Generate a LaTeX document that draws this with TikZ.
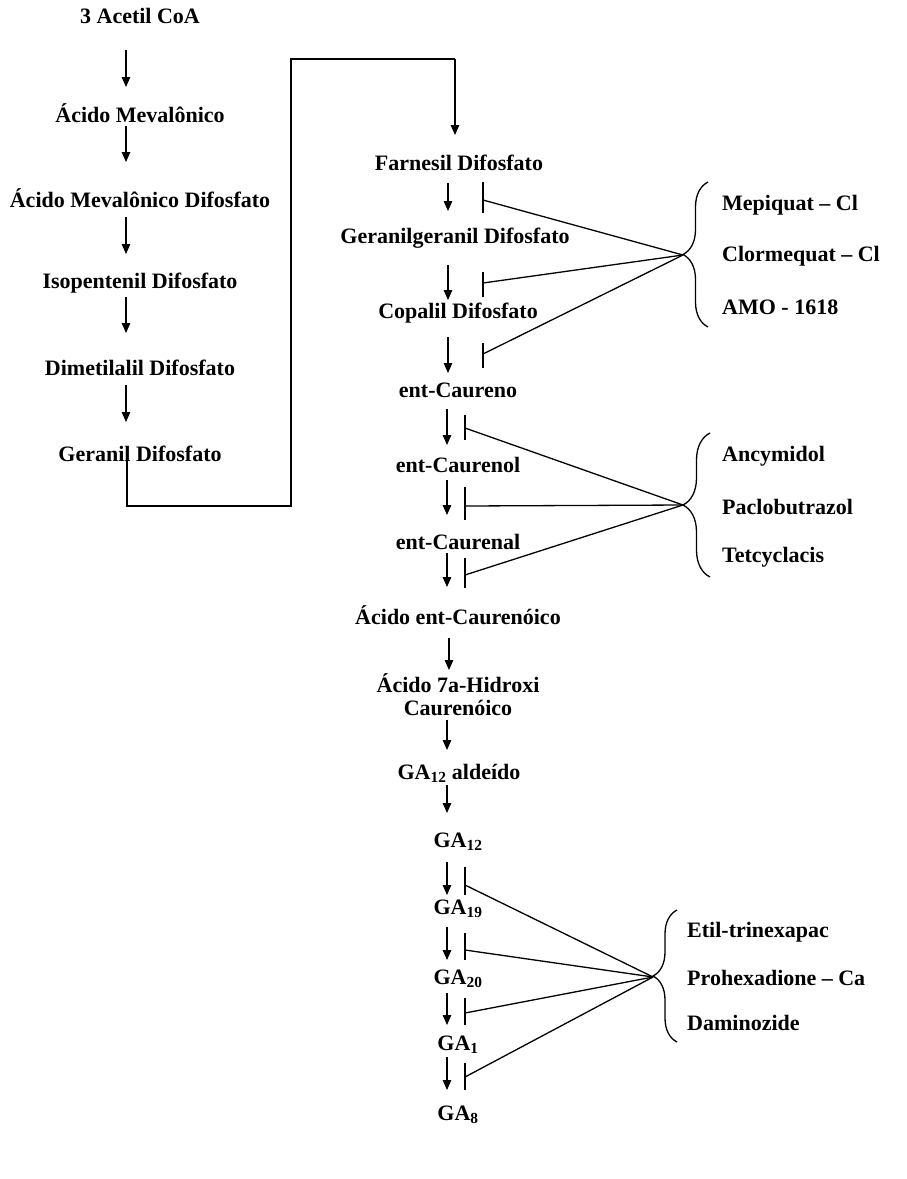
\documentclass[tikz,border=0pt]{standalone}
\usepackage{fontspec}
\setmainfont{Liberation Serif}
\usetikzlibrary{arrows.meta,decorations.pathreplacing}
\tikzset{
  lbl/.style={font=\fontsize{22}{24}\selectfont\bfseries, inner sep=0pt, align=center},
  rlbl/.style={lbl, anchor=west},
  arr/.style={line width=1.3pt, -{Triangle[length=10pt,width=8.5pt]}},
  ln/.style={line width=1.3pt},
  brc/.style={line width=1.3pt, decorate, decoration={brace, amplitude=#1}}
}
\begin{document}
\begin{tikzpicture}[x=1pt,y=-1pt]
\useasboundingbox (0,0) rectangle (906,1179);
% left column
\node[lbl] (acetil) at (140,16) {3 Acetil CoA};
\node[lbl] (mev) at (140,113) {Ácido Mevalônico};
\node[lbl] (mevd) at (140,198) {Ácido Mevalônico Difosfato};
\node[lbl] (iso) at (140,283) {Isopentenil Difosfato};
\node[lbl] (dim) at (140,368) {Dimetilalil Difosfato};
\node[lbl] (ger) at (140,454) {Geranil Difosfato};
\draw[arr] (126,50) -- (126,87);
\draw[arr] (126,126) -- (126,162);
\draw[arr] (126,217) -- (126,254);
\draw[arr] (126,297) -- (126,333);
\draw[arr] (126,385) -- (126,422);
% loop
\coordinate (loopA) at (127,446);
\coordinate (loopB) at (127,506);
\coordinate (loopC) at (291,506);
\coordinate (loopD) at (291,59);
\coordinate (loopE) at (455,59);
\coordinate (loopF) at (455,135);
\draw[ln] (loopA) -- (loopB) -- (loopC) -- (loopD) -- (loopE);
\draw[arr] (loopE) -- (loopF);
% right column
\node[lbl] (far) at (459,163) {Farnesil Difosfato};
\node[lbl] (ggd) at (455,238) {Geranilgeranil Difosfato};
\node[lbl] (cop) at (458,313) {Copalil Difosfato};
\node[lbl] (entc) at (458,390) {ent-Caureno};
\node[lbl] (entol) at (458,465) {ent-Caurenol};
\node[lbl] (ental) at (458,542) {ent-Caurenal};
\node[lbl] (acent) at (458,615) {Ácido ent-Caurenóico};
\node[lbl, text depth=0pt] (hid) at (458,695) {Ácido 7a-Hidroxi\\[-1pt]Caurenóico};
\node[lbl] (ga12a) at (459,773) {GA\textsubscript{12} aldeído};
\node[lbl] (ga12) at (458,842) {GA\textsubscript{12}};
\node[lbl] (ga19) at (458,909) {GA\textsubscript{19}};
\node[lbl] (ga20) at (458,979) {GA\textsubscript{20}};
\node[lbl] (ga1) at (458,1045) {GA\textsubscript{1}};
\node[lbl] (ga8) at (458,1115) {GA\textsubscript{8}};
% pathway arrows
\draw[arr] (448,183) -- (448,211);
\draw[arr] (448,265) -- (448,300);
\draw[arr] (448,337) -- (448,373);
\draw[arr] (447,409) -- (447,445);
\draw[arr] (447,480) -- (447,515);
\draw[arr] (447,553) -- (447,587);
\draw[arr] (449,638) -- (449,670);
\draw[arr] (447,720) -- (447,750);
\draw[arr] (447,785) -- (447,813);
\draw[arr] (447,862) -- (447,895);
\draw[arr] (447,927) -- (447,960);
\draw[arr] (447,993) -- (447,1025);
\draw[arr] (447,1057) -- (447,1090);
% brace tips
\coordinate (tip1) at (683,255);
\coordinate (tip2) at (683,505);
\coordinate (tip3) at (653,977);
% group 1
\draw[brc=25pt] (708,327) -- (708,182);
\node[rlbl] (mep) at (722,205) {Mepiquat -- Cl};
\node[rlbl] (clo) at (722,256) {Clormequat -- Cl};
\node[rlbl] (amo) at (722,307) {AMO - 1618};
\draw[ln] (483,182) -- (483,213);
\draw[ln] (483,200) -- (tip1);
\draw[ln] (483,272) -- (483,297);
\draw[ln] (483,283) -- (tip1);
\draw[ln] (483,343) -- (483,368);
\draw[ln] (483,354) -- (tip1);
% group 2
\draw[brc=27pt] (710,577) -- (710,433);
\node[rlbl] (anc) at (722,456) {Ancymidol};
\node[rlbl] (pac) at (722,507) {Paclobutrazol};
\node[rlbl] (tet) at (722,557) {Tetcyclacis};
\draw[ln] (465,415) -- (465,440);
\draw[ln] (465,428) -- (tip2);
\draw[ln] (465,487) -- (465,520);
\draw[ln] (465,506) -- (tip2);
\draw[ln] (465,558) -- (465,588);
\draw[ln] (465,575) -- (tip2);
% group 3
\draw[brc=24pt] (677,1042) -- (677,910);
\node[rlbl] (eti) at (687,932) {Etil-trinexapac};
\node[rlbl] (pro) at (687,978) {Prohexadione -- Ca};
\node[rlbl] (dam) at (687,1023) {Daminozide};
\draw[ln] (465,867) -- (465,895);
\draw[ln] (465,885) -- (tip3);
\draw[ln] (465,933) -- (465,960);
\draw[ln] (465,950) -- (tip3);
\draw[ln] (465,998) -- (465,1025);
\draw[ln] (465,1013) -- (tip3);
\draw[ln] (465,1063) -- (465,1090);
\draw[ln] (465,1077) -- (tip3);
\end{tikzpicture}
\end{document}
